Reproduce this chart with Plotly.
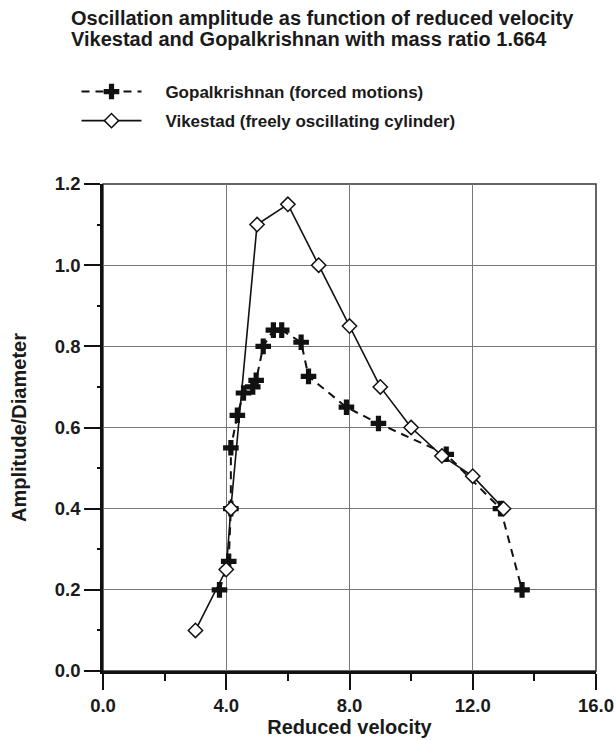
import plotly.graph_objects as go

# Data
gopal_x = [3.78, 4.08, 4.15, 4.15, 4.36, 4.56, 4.86, 4.97, 5.2, 5.53, 5.8, 6.43, 6.67, 7.9, 8.94, 11.14, 12.9, 13.6]
gopal_y = [0.20, 0.27, 0.40, 0.55, 0.63, 0.685, 0.70, 0.716, 0.80, 0.84, 0.84, 0.81, 0.726, 0.65, 0.61, 0.534, 0.40, 0.20]
vik_x = [3.0, 4.0, 4.15, 5.0, 6.0, 7.0, 8.0, 9.0, 10.0, 11.0, 12.0, 13.0]
vik_y = [0.10, 0.25, 0.40, 1.10, 1.15, 1.00, 0.85, 0.70, 0.60, 0.53, 0.48, 0.40]

title_lines = ["Oscillation amplitude as function of reduced velocity",
               "Vikestad and Gopalkrishnan with mass ratio 1.664"]
name_gopal = "Gopalkrishnan (forced motions)"
name_vik = "Vikestad (freely oscillating cylinder)"
x_title = "Reduced velocity"
y_title = "Amplitude/Diameter"

FONT = "Liberation Sans, Arial, sans-serif"
INK = "#1a1a1a"
W, H = 616, 740
ML, MR, MT, MB = 103, 20, 184, 69
PH = H - MT - MB
PW = W - ML - MR

def py(ypx):
    return 1 + (MT - ypx) / PH

def px(xpx):
    return (xpx - ML) / PW

pad = "\u00a0" * 4

fig = go.Figure()
fig.add_trace(go.Scatter(
    x=gopal_x, y=gopal_y, name=pad + name_gopal, mode="lines+markers",
    line=dict(color="#111", width=2, dash="8px,6px"),
    marker=dict(symbol="cross", size=13, color="#111", line=dict(width=0)),
    legendgroup="g1",
))
fig.add_trace(go.Scatter(
    x=vik_x, y=vik_y, name=pad + name_vik, mode="lines+markers",
    line=dict(color="#111", width=1.6),
    marker=dict(symbol="diamond", size=11, color="white", line=dict(color="#111", width=1.5)),
    legendgroup="g2",
))

fig.add_shape(type="rect", xref="paper", yref="paper", x0=0, y0=0, x1=1, y1=1,
              line=dict(color="#333", width=1.5), layer="below")

for i, (txt, ycen) in enumerate(zip(title_lines, [17.5, 39.5])):
    fig.add_annotation(text=txt, xref="paper", yref="paper", x=px(69), y=py(ycen),
                       xanchor="left", yanchor="middle", showarrow=False,
                       font=dict(family=FONT, size=20, weight="bold", color=INK))

fig.update_layout(
    width=W, height=H,
    margin=dict(l=ML, r=MR, t=MT, b=MB),
    paper_bgcolor="white", plot_bgcolor="white",
    font=dict(family=FONT, size=17, color=INK, weight="bold"),
    showlegend=True,
    legend=dict(x=px(76.5), y=py(74), xanchor="left", yanchor="top",
                font=dict(family=FONT, size=17, weight="bold", color=INK),
                traceorder="grouped", tracegroupgap=4, itemwidth=60,
                bgcolor="rgba(0,0,0,0)"),
    xaxis=dict(range=[0, 16], dtick=4, tick0=0, tickformat=".1f", automargin=False,
               showline=True, linecolor="#111", linewidth=2.5,
               ticks="outside", ticklen=16, tickwidth=2, tickcolor="#111",
               minor=dict(dtick=2, ticks="outside", ticklen=7, tickwidth=2, tickcolor="#111", showgrid=False),
               showgrid=True, gridcolor="#777", gridwidth=1, zeroline=False,
               tickfont=dict(size=18.5, weight="bold"),
               title=dict(text=x_title, font=dict(size=20, weight="bold"), standoff=0)),
    yaxis=dict(range=[0, 1.2], dtick=0.2, tick0=0, tickformat=".1f", automargin=False,
               showline=True, linecolor="#111", linewidth=2.5,
               ticks="outside", ticklen=16, tickwidth=2, tickcolor="#111",
               minor=dict(dtick=0.1, ticks="outside", ticklen=3, tickwidth=2, tickcolor="#111", showgrid=False),
               showgrid=True, gridcolor="#777", gridwidth=1, zeroline=False,
               tickfont=dict(size=18.5, weight="bold"),
               title=dict(text=y_title, font=dict(size=20, weight="bold"), standoff=23)),
)

fig.write_html("out.html")
